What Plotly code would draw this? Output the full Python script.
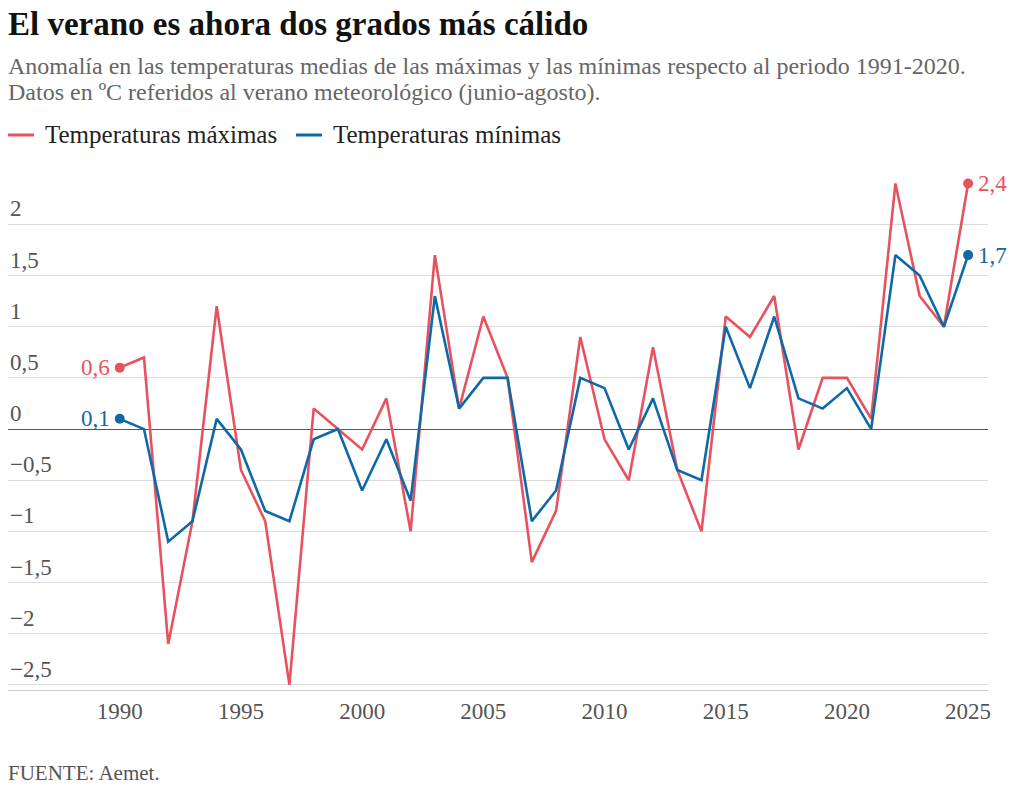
import plotly.graph_objects as go

years = list(range(1990, 2026))
tmax = [0.6, 0.7, -2.1, -0.9, 1.2, -0.4, -0.9, -2.5, 0.2, 0.0, -0.2, 0.3, -1.0, 1.7, 0.2, 1.1, 0.5, -1.3, -0.8, 0.9,
        -0.1, -0.5, 0.8, -0.4, -1.0, 1.1, 0.9, 1.3, -0.2, 0.5, 0.5, 0.1, 2.4, 1.3, 1.0, 2.4]
tmin = [0.1, 0.0, -1.1, -0.9, 0.1, -0.2, -0.8, -0.9, -0.1, 0.0, -0.6, -0.1, -0.7, 1.3, 0.2, 0.5, 0.5, -0.9, -0.6, 0.5,
        0.4, -0.2, 0.3, -0.4, -0.5, 1.0, 0.4, 1.1, 0.3, 0.2, 0.4, 0.0, 1.7, 1.5, 1.0, 1.7]
ytick_vals = [2, 1.5, 1, 0.5, 0, -0.5, -1, -1.5, -2, -2.5]
ytick_text = ["2", "1,5", "1", "0,5", "0", "−0,5", "−1", "−1,5", "−2", "−2,5"]
xtick_vals = [1990, 1995, 2000, 2005, 2010, 2015, 2020, 2025]

RED = "#e8525f"
BLUE = "#0f68a8"
FONT = "Liberation Serif"

# page offset compensation (page shows figure shifted by ~10px right, 8px down)
OX, OY = 10, 8
W, H = 1014, 786
L, R, T, B = 0, 34, 155, 104
pw, ph = W - L - R, H - T - B

def px(x):  # page x -> paper x
    return (x - OX - L) / pw

def py(y):  # page y -> paper y
    return (H - B - (y - OY)) / ph

fig = go.Figure()
fig.add_trace(go.Scatter(x=years, y=tmax, mode="lines", line=dict(color=RED, width=2.6)))
fig.add_trace(go.Scatter(x=years, y=tmin, mode="lines", line=dict(color=BLUE, width=2.6)))
for s, c in [(tmax, RED), (tmin, BLUE)]:
    fig.add_trace(go.Scatter(x=[years[0], years[-1]], y=[s[0], s[-1]], mode="markers",
                             marker=dict(color=c, size=10)))

for v, t in zip(ytick_vals, ytick_text):
    fig.add_annotation(x=0, xref="paper", y=v, yref="y", text=t, showarrow=False, xanchor="left",
                       yanchor="bottom", yshift=1, font=dict(family=FONT, size=23, color="#555"))
for s, c in [(tmax, RED), (tmin, BLUE)]:
    fig.add_annotation(x=years[0], y=s[0], text=f"{s[0]:.1f}".replace(".", ","), showarrow=False,
                       xanchor="right", xshift=-8, font=dict(family=FONT, size=23, color=c))
    fig.add_annotation(x=years[-1], y=s[-1], text=f"{s[-1]:.1f}".replace(".", ","), showarrow=False,
                       xanchor="left", xshift=8, font=dict(family=FONT, size=23, color=c))

texts = [
    (8, 24, "<b>El verano es ahora dos grados más cálido</b>", 33, "#111"),
    (8, 66, "Anomalía en las temperaturas medias de las máximas y las mínimas respecto al periodo 1991-2020.", 24, "#666"),
    (8, 92, "Datos en ºC referidos al verano meteorológico (junio-agosto).", 24, "#666"),
    (45, 135, "Temperaturas máximas", 25, "#222"),
    (333, 135, "Temperaturas mínimas", 25, "#222"),
    (8, 773, "FUENTE: Aemet.", 21, "#555"),
]
for x, y, t, s, c in texts:
    fig.add_annotation(x=px(x), y=py(y), xref="paper", yref="paper", text=t, showarrow=False,
                       xanchor="left", yanchor="middle", font=dict(family=FONT, size=s, color=c))

fig.add_shape(type="line", xref="paper", yref="paper", x0=px(10), x1=px(36),
              y0=py(135), y1=py(135), line=dict(color=RED, width=3))
fig.add_shape(type="line", xref="paper", yref="paper", x0=px(298), x1=px(324),
              y0=py(135), y1=py(135), line=dict(color=BLUE, width=3))

fig.update_layout(
    width=W, height=H, margin=dict(l=L, r=R, t=T, b=B, autoexpand=False),
    paper_bgcolor="white", plot_bgcolor="white", showlegend=False,
    xaxis=dict(range=[1985.39, 2025.82], tickvals=xtick_vals, showgrid=False, zeroline=False,
               showline=True, linecolor="#ccc", ticks="", tickfont=dict(family=FONT, size=23, color="#555")),
    yaxis=dict(range=[-2.55, 2.6], tickvals=ytick_vals, showticklabels=False, gridcolor="#dcdcdc",
               zeroline=True, zerolinecolor="#555", zerolinewidth=1.2),
)
fig.write_html("out.html")
